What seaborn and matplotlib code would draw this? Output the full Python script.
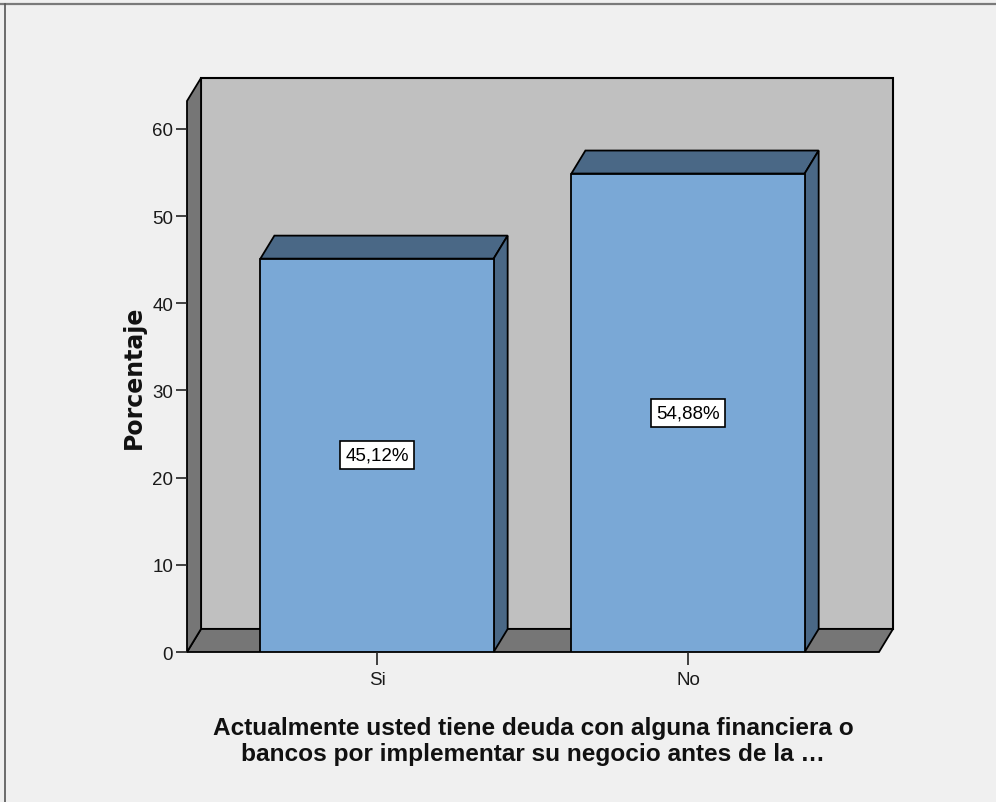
import matplotlib
matplotlib.use("Agg")
import matplotlib.pyplot as plt
import seaborn as sns
from matplotlib.patches import Polygon, Rectangle
from matplotlib.lines import Line2D

categories = ["Si", "No"]
values = [45.12, 54.88]
y_ticks = [0, 10, 20, 30, 40, 50, 60]
x_label = ("Actualmente usted tiene deuda con alguna financiera o\n"
           "bancos por implementar su negocio antes de la \u2026")
y_label = "Porcentaje"

FRONT = "#7aa8d6"
DARK = "#4a6886"
WALL = "#c0c0c0"
FLOOR = "#767676"
BG = "#f0f0f0"

W, H = 996, 803
plt.rcParams["font.family"] = ["Liberation Sans", "DejaVu Sans"]

fig = plt.figure(figsize=(W / 100, H / 100), dpi=100, facecolor=BG)
# axes placed in pixels: front plane from x=187..879, y=102..653
ax = fig.add_axes([187 / W, 1 - 653 / H, 692 / W, 551 / H])
ax.set_facecolor("none")

xmin, xmax = -0.611, 1.614
ymin, ymax = 0, 63.2
# depth offset of the fake 3d, in pixels -> data units
DX = 14 * (xmax - xmin) / 692
DY = 23 * (ymax - ymin) / 551

sns.barplot(x=categories, y=values, color=FRONT, saturation=1, width=0.75,
            edgecolor="black", linewidth=1.3, ax=ax, zorder=3)
ax.set_xlim(xmin, xmax)
ax.set_ylim(ymin, ymax)

# back wall, floor and left wall
ax.add_patch(Rectangle((xmin + DX, DY), xmax - xmin, ymax - ymin, facecolor=WALL,
                       edgecolor="black", lw=1.5, zorder=0.5, clip_on=False))
ax.add_patch(Polygon([(xmin, 0), (xmax, 0), (xmax + DX, DY), (xmin + DX, DY)],
                     closed=True, facecolor=FLOOR, edgecolor="black", lw=1.3,
                     zorder=0.6, clip_on=False))
ax.add_patch(Polygon([(xmin, 0), (xmin, ymax), (xmin + DX, ymax + DY), (xmin + DX, DY)],
                     closed=True, facecolor=FLOOR, edgecolor="black", lw=1.3,
                     zorder=0.7, clip_on=False))

# top and side faces of each bar
for bar, v in zip(ax.patches[:len(values)], values):
    x0 = bar.get_x()
    x1 = x0 + bar.get_width()
    h = bar.get_height()
    ax.add_patch(Polygon([(x0, h), (x1, h), (x1 + DX, h + DY), (x0 + DX, h + DY)],
                         closed=True, facecolor=DARK, edgecolor="black", lw=1.3,
                         zorder=2.9, clip_on=False))
    ax.add_patch(Polygon([(x1, 0), (x1, h), (x1 + DX, h + DY), (x1 + DX, DY)],
                         closed=True, facecolor=DARK, edgecolor="black", lw=1.3,
                         zorder=2.9, clip_on=False))
    ax.text(x0 + bar.get_width() / 2, h / 2, f"{v:.2f}".replace(".", ",") + "%",
            ha="center", va="center", fontsize=13.5, zorder=4,
            bbox=dict(boxstyle="square,pad=0.3", facecolor="white",
                      edgecolor="black", lw=1.2))

for s in ax.spines.values():
    s.set_visible(False)
ax.set_yticks(y_ticks)
ax.tick_params(axis="y", length=8, width=1.2, color="#222222", pad=2,
               labelsize=13.5, labelcolor="#1a1a1a")
ax.tick_params(axis="x", length=9.5, width=1.2, color="#222222", pad=4,
               labelsize=13.5, labelcolor="#1a1a1a")

ax.set_xlabel(x_label, fontsize=17.6, fontweight="bold", linespacing=1.15,
              color="#111111")
ax.xaxis.set_label_coords(0.5, -0.117)
ax.set_ylabel(y_label, fontsize=17, fontweight="bold", family=["DejaVu Sans"],
              color="#111111")
ax.yaxis.set_label_coords(-0.06, 0.5)

# thin frame on the top and left edge of the picture
fig.add_artist(Line2D([0, 1], [1 - 4.5 / H] * 2, transform=fig.transFigure,
                      color="#7a7a7a", lw=1.6))
fig.add_artist(Line2D([4.5 / W] * 2, [0, 1 - 4.5 / H], transform=fig.transFigure,
                      color="#555555", lw=1.2))

fig.savefig("out.png", dpi=100, facecolor=BG)
